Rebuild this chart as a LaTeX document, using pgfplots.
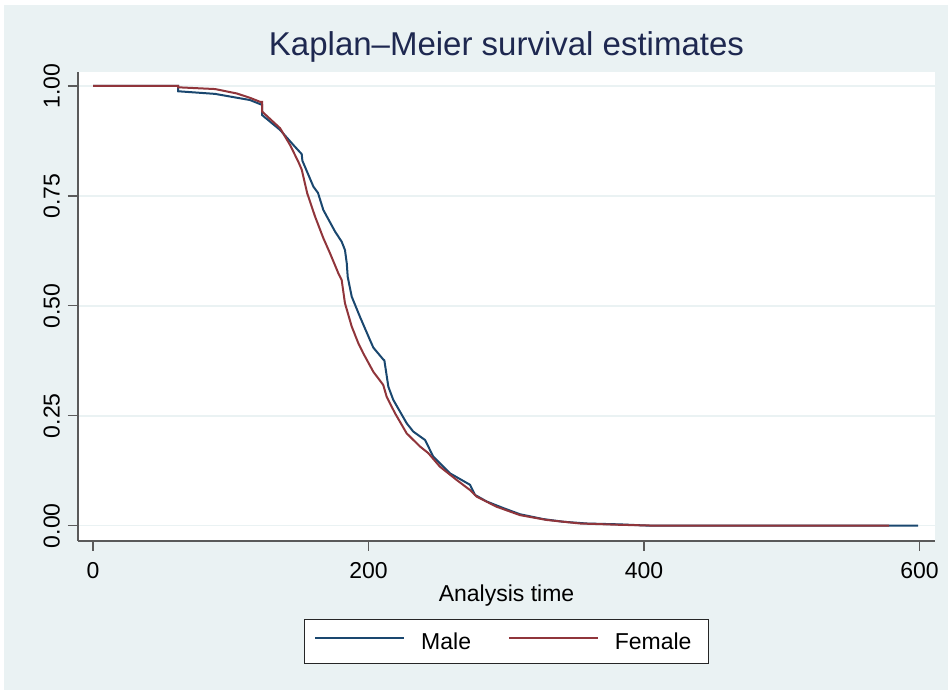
\documentclass[border=0pt]{standalone}
\usepackage{fontspec}
\setmainfont{Liberation Sans}
\usepackage{pgfplots}
\pgfplotsset{compat=1.18}
\definecolor{stbg}{RGB}{234,242,243}
\definecolor{stnavy}{RGB}{26,71,111}
\definecolor{stmaroon}{RGB}{144,53,59}
\definecolor{sttitle}{RGB}{30,40,80}
\definecolor{staxis}{RGB}{90,90,90}
\newcommand{\lbl}{\fontsize{23}{27}\selectfont}

\begin{document}
\begin{tikzpicture}[x=1pt,y=1pt]
\useasboundingbox (0,0) rectangle (948,690);
\fill[white] (0,0) rectangle (948,690);
\fill[stbg] (4,0) rectangle (948,685);
\begin{axis}[
  at={(78pt,149pt)}, anchor=south west,
  scale only axis, width=857pt, height=469pt,
  xmin=-10.9, xmax=611.25, ymin=-0.0348, ymax=1.0318,
  axis x line*=bottom, axis y line*=left,
  axis line style={-, draw=staxis, line width=1.2pt},
  axis background/.style={fill=white},
  xtick={0,200,400,600}, ytick={0,0.25,0.5,0.75,1},
  yticklabels={0.00,0.25,0.50,0.75,1.00},
  tick align=outside, major tick length=10pt,
  tick style={draw=staxis, line width=1.2pt},
  ymajorgrids, grid style={draw=stbg, line width=1.5pt},
  /pgf/number format/assume math mode=true,
  tick label style={font=\lbl, text=black},
  xticklabel style={anchor=north, inner sep=0pt},
  yticklabel style={rotate=90, anchor=south, inner sep=0pt},
  xticklabel shift=11pt, yticklabel shift=8pt,
  title={Kaplan–Meier survival estimates},
  title style={at={(0.5,1)}, anchor=base, yshift=10pt,
    font=\fontsize{33}{38}\selectfont, text=sttitle},
  xlabel={Analysis time},
  xlabel style={at={(axis description cs:0.5,0)}, anchor=base,
    yshift=-61pt, font=\lbl},
  legend columns=2, legend cell align=left,
  legend image code/.code={\draw[#1, line width=1.7pt] (0pt,0.33em) -- (89pt,0.33em);},
  legend style={at={(0.5,0)}, anchor=north, yshift=-78pt,
    draw=black!85, line width=1pt, fill=white,
    inner xsep=10pt, inner ysep=13pt, font=\lbl,
    nodes={inner sep=0pt},
    /tikz/every odd column/.append style={column sep=16pt},
    /tikz/every even column/.append style={column sep=37pt}},
  every axis plot/.append style={line width=2pt, sharp plot, no markers},
]
% Male
\addplot[stnavy] coordinates {
(0,1.000) (61.7,1.000) (61.7,0.988) (88.6,0.982) (114.0,0.968)
(122.7,0.957) (122.7,0.934) (135.8,0.900) (145.4,0.866) (151.5,0.845)
(152.0,0.830) (160.0,0.771) (163.3,0.757) (167.2,0.718) (175.7,0.669)
(180.5,0.646) (182.9,0.627) (184.2,0.597) (184.9,0.566) (187.8,0.521)
(193.8,0.475) (201.1,0.422) (203.5,0.405) (210.7,0.378) (211.5,0.376)
(214.4,0.316) (218.0,0.286) (227.7,0.233) (232.5,0.214) (241.0,0.195)
(243.4,0.180) (247.0,0.157) (259.2,0.119) (273.7,0.093) (277.3,0.070)
(285.8,0.055) (297.9,0.040) (310.0,0.026) (326.9,0.015) (341.4,0.009)
(358.4,0.005) (382.6,0.003) (404.4,0.000) (598.9,0.000)
};
\addlegendentry{Male}
% Female
\addplot[stmaroon] coordinates {
(0,1.000) (61.7,1.000) (61.7,0.997) (88.6,0.993) (104.3,0.983)
(114.0,0.973) (121.2,0.964) (122.7,0.964) (122.7,0.942) (135.8,0.904)
(143.0,0.866) (149.0,0.828) (151.5,0.810) (155.5,0.756) (161.2,0.703)
(167.2,0.654) (172.0,0.620) (178.1,0.574) (180.5,0.559) (182.9,0.506)
(187.8,0.453) (192.6,0.415) (196.2,0.392) (203.5,0.350) (210.7,0.320)
(213.2,0.293) (219.2,0.256) (227.7,0.210) (237.4,0.180) (243.4,0.165)
(251.9,0.134) (264.0,0.104) (273.7,0.081) (278.5,0.066) (293.1,0.043)
(310.0,0.024) (329.4,0.013) (353.5,0.005) (382.6,0.002) (410.0,0.000)
(578.0,0.000)
};
\addlegendentry{Female\hspace*{7pt}}
\end{axis}
\end{tikzpicture}
\end{document}
